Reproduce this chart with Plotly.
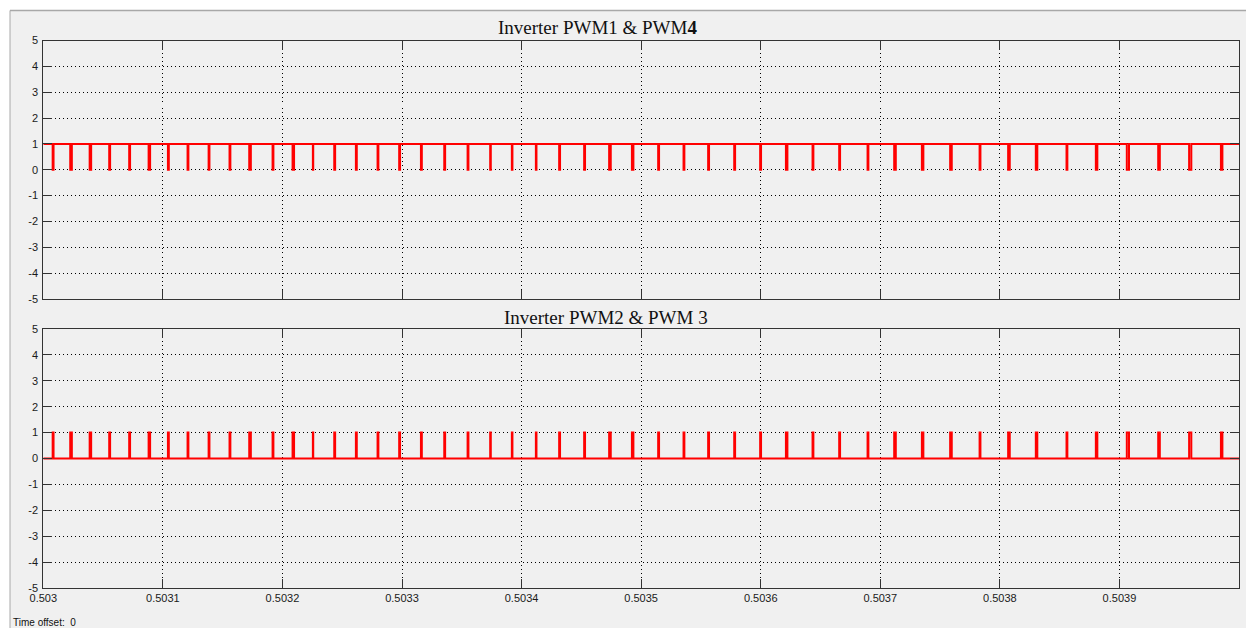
import plotly.graph_objects as go

# Time window shown on both scopes (seconds)
t_start = 0.503
t_end = 0.504

# Switching instants: centre of each gating notch (s) and its width (microseconds)
notch_centers = [
    0.5030082, 0.5030232, 0.5030394, 0.5030555, 0.5030722, 0.5030887, 0.5031046,
    0.5031210, 0.5031386, 0.5031561, 0.5031729, 0.5031921, 0.5032091, 0.5032256,
    0.5032437, 0.5032618, 0.5032799, 0.5032980, 0.5033162, 0.5033357, 0.5033552,
    0.5033740, 0.5033921, 0.5034122, 0.5034318, 0.5034527, 0.5034739, 0.5034929,
    0.5035146, 0.5035358, 0.5035564, 0.5035782, 0.5035999, 0.5036217, 0.5036437,
    0.5036660, 0.5036897, 0.5037123, 0.5037354, 0.5037591, 0.5037834, 0.5038076,
    0.5038307, 0.5038561, 0.5038809, 0.5039071, 0.5039331, 0.5039592, 0.5039855,
]
notch_widths_us = [
    0.75, 1.35, 1.25, 0.75, 0.75, 1.25, 0.75, 0.7, 0.7, 0.7, 1.35, 0.7, 1.25, 0.3,
    0.75, 0.75, 0.7, 0.75, 0.75, 0.75, 0.7, 0.5, 0.5, 0.5, 0.75, 0.75, 1.35, 1.25,
    0.75, 0.7, 0.75, 0.75, 0.75, 1.25, 0.7, 0.75, 0.7, 1.35, 1.25, 1.35, 0.7, 1.35,
    1.25, 0.7, 1.25, 1.85, 1.35, 1.85, 1.25,
]

x_tick_vals = [0.503, 0.5031, 0.5032, 0.5033, 0.5034, 0.5035, 0.5036, 0.5037, 0.5038, 0.5039]
x_tick_text = ["0.503", "0.5031", "0.5032", "0.5033", "0.5034", "0.5035", "0.5036",
               "0.5037", "0.5038", "0.5039"]
y_tick_vals = [-5, -4, -3, -2, -1, 0, 1, 2, 3, 4, 5]
y_tick_text = ["-5", "-4", "-3", "-2", "-1", "0", "1", "2", "3", "4", "5"]

titles = ["Inverter PWM1 &amp; PWM<b>4</b>", "Inverter PWM2 &amp; PWM 3"]


def gate_signal(idle, active):
    xs, ys = [t_start], [idle]
    for c, w in zip(notch_centers, notch_widths_us):
        half = w * 1e-6 / 2
        xs += [c - half, c + half]
        ys += [active, idle]
    xs.append(t_end)
    ys.append(idle)
    return xs, ys


W, H = 1246, 628
x_dom = [43.3 / W, 1239 / W]
top_dom = [1 - 299 / H, 1 - 40.5 / H]
bot_dom = [1 - 588 / H, 1 - 329 / H]

fig = go.Figure()
for i, (idle, active) in enumerate([(1, 0), (0, 1)]):
    xs, ys = gate_signal(idle, active)
    fig.add_trace(go.Scatter(
        x=xs, y=ys, mode="lines", line=dict(color="#ff0000", width=2, shape="hv"),
        xaxis="x" if i == 0 else "x2", yaxis="y" if i == 0 else "y2",
        hoverinfo="skip", showlegend=False,
    ))

tick_font = dict(family="Liberation Sans, Arial, sans-serif", size=11, color="#1a1a1a")
axis_common = dict(
    showline=True, linecolor="#333333", linewidth=1, mirror="allticks",
    ticks="inside", ticklen=9, tickcolor="#333333", tickwidth=1,
    showgrid=True, gridcolor="#000000", gridwidth=1, griddash="1px,3px",
    zeroline=False, tickfont=tick_font, fixedrange=True, automargin=False,
)

layout_axes = {}
for i, dom in enumerate([top_dom, bot_dom]):
    sx = "" if i == 0 else "2"
    layout_axes["xaxis" + sx] = dict(
        axis_common, domain=x_dom, range=[t_start, t_end], anchor="y" + sx,
        tickmode="array", tickvals=x_tick_vals, ticktext=x_tick_text,
        showticklabels=(i == 1),
    )
    layout_axes["yaxis" + sx] = dict(
        axis_common, domain=dom, range=[-5, 5], anchor="x" + sx,
        tickmode="array", tickvals=y_tick_vals, ticktext=y_tick_text,
        ticklabelstandoff=2,
    )

title_font = dict(family="Liberation Serif, Times New Roman, serif", size=19, color="#111111")
annotations = [
    dict(text=titles[0], x=597 / W, y=1 - 28 / H, xref="paper", yref="paper",
         showarrow=False, font=title_font, xanchor="center", yanchor="middle"),
    dict(text=titles[1], x=606 / W, y=1 - 317 / H, xref="paper", yref="paper",
         showarrow=False, font=title_font, xanchor="center", yanchor="middle"),
    dict(text="Time offset:  0", x=11 / W, y=1 - 622 / H, xref="paper", yref="paper",
         showarrow=False, xanchor="left", yanchor="middle",
         font=dict(family="Liberation Sans, Arial, sans-serif", size=10, color="#111111")),
]

shapes = [
    dict(type="rect", xref="paper", yref="paper", x0=10 / W, x1=1, y0=0, y1=1 - 10 / H,
         fillcolor="#f0f0f0", line=dict(width=0), layer="below"),
    dict(type="line", xref="paper", yref="paper", x0=10 / W, x1=1, y0=1 - 10.5 / H,
         y1=1 - 10.5 / H, line=dict(color="#a8a8a8", width=1.5)),
    dict(type="line", xref="paper", yref="paper", x0=10 / W, x1=10 / W, y0=0,
         y1=1 - 10.5 / H, line=dict(color="#a8a8a8", width=1)),
]

fig.update_layout(
    width=W, height=H, autosize=False,
    margin=dict(l=0, r=0, t=0, b=0, pad=0, autoexpand=False),
    paper_bgcolor="#ffffff", plot_bgcolor="#ffffff",
    annotations=annotations, shapes=shapes, showlegend=False,
    **layout_axes,
)

# Drop the browser's default page margin so the figure fills the window exactly
page_css = (
    "document.body.style.margin='0';"
    "document.body.style.overflow='hidden';"
)
fig.write_html("out.html", config={"displayModeBar": False}, post_script=page_css)
